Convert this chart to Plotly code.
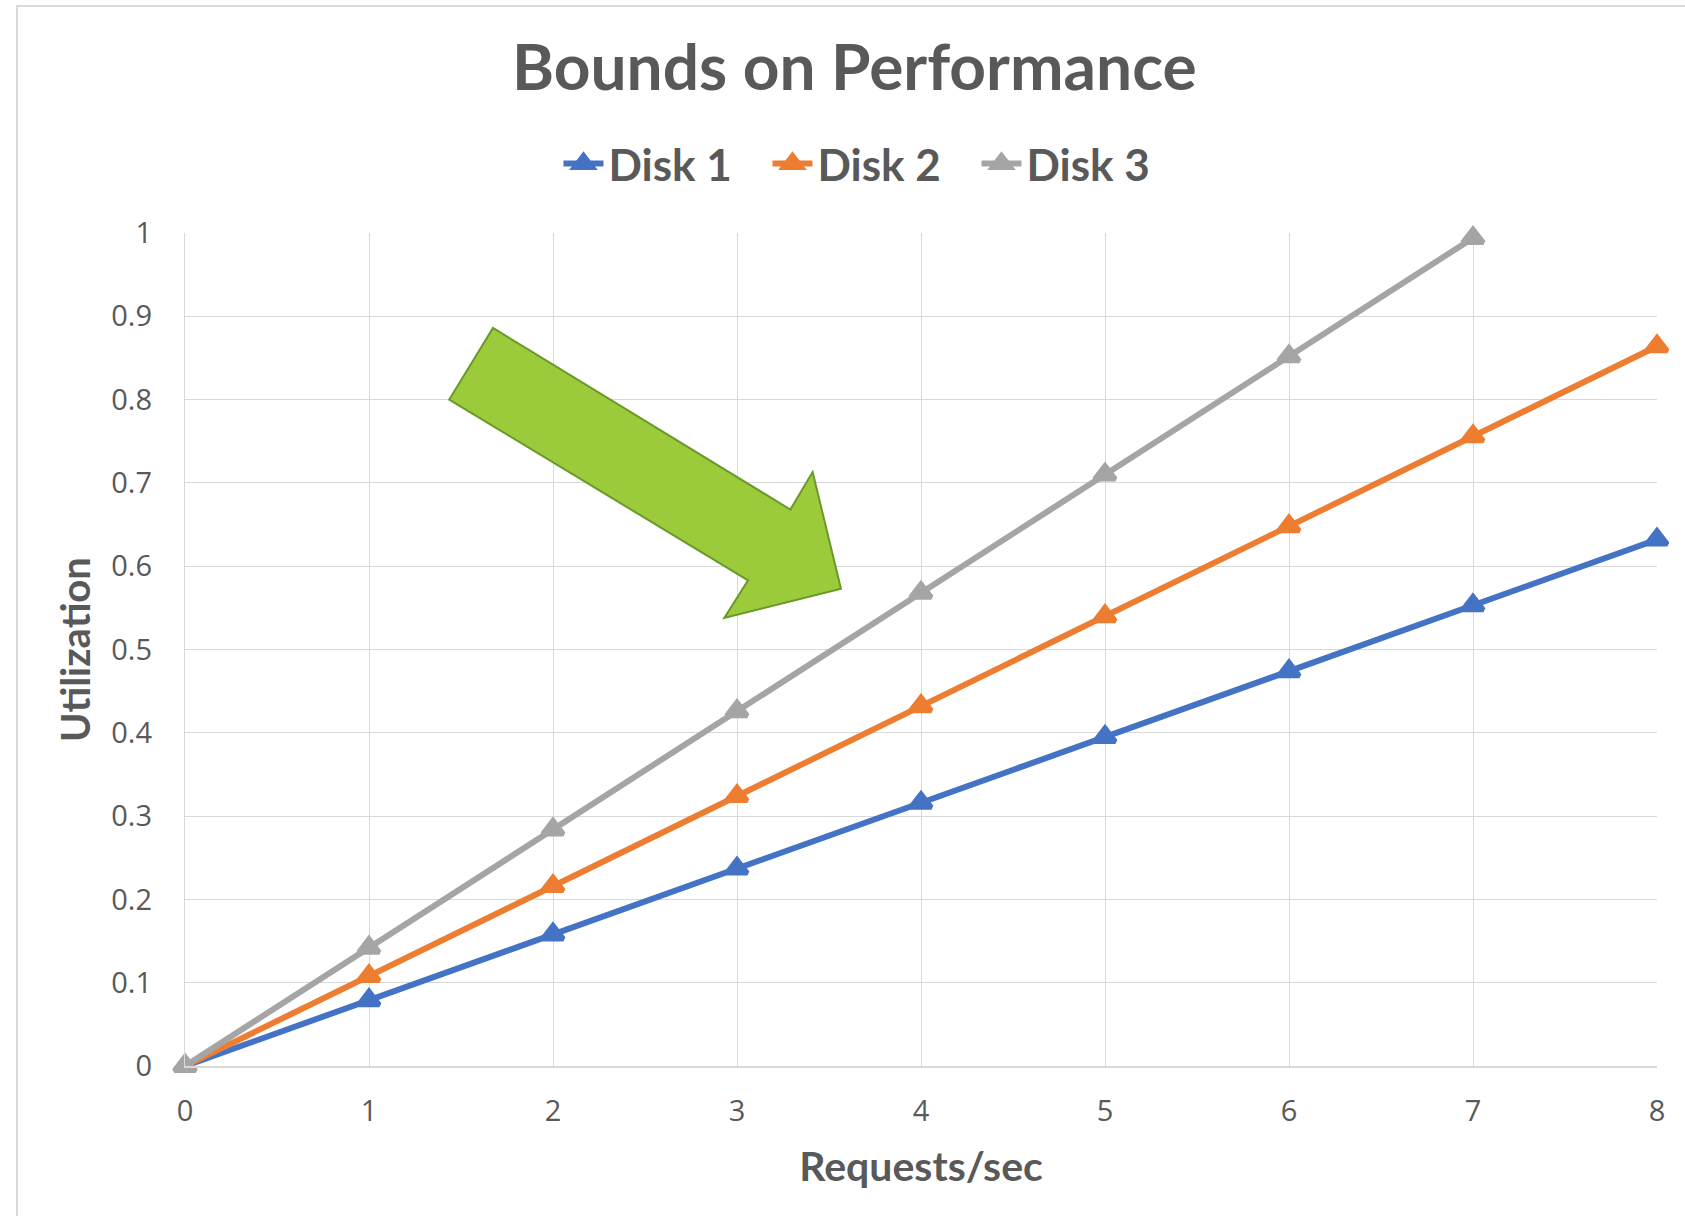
import plotly.graph_objects as go

# Requests per second (x) and utilization of each disk (y)
requests = [0, 1, 2, 3, 4, 5, 6, 7, 8]
disk1 = [0, 0.079, 0.158, 0.237, 0.316, 0.395, 0.474, 0.553, 0.632]
disk2 = [0, 0.108, 0.216, 0.324, 0.432, 0.540, 0.648, 0.756, 0.864]
requests_disk3 = [0, 1, 2, 3, 4, 5, 6, 7]
disk3 = [0, 0.142, 0.284, 0.426, 0.568, 0.710, 0.852, 0.994]

series_names = ["Disk 1", "Disk 2", "Disk 3"]
series_colors = ["#4472C4", "#ED7D31", "#A5A5A5"]

x_ticks = [0, 1, 2, 3, 4, 5, 6, 7, 8]
y_ticks = [0, 0.1, 0.2, 0.3, 0.4, 0.5, 0.6, 0.7, 0.8, 0.9, 1]
y_tick_text = ["0", "0.1", "0.2", "0.3", "0.4", "0.5", "0.6", "0.7", "0.8", "0.9", "1"]

# Outline of the green block arrow, in axis units
arrow_x = [1.674, 3.290, 3.411, 3.565, 2.931, 3.060, 1.436]
arrow_y = [0.886, 0.668, 0.713, 0.573, 0.538, 0.583, 0.800]

TEXT = "#595959"
GRID = "#D9D9D9"
TICK_FONT = dict(family="Open Sans", size=29, color=TEXT)
BOLD_FONT = "Lato"

fig = go.Figure()
for xs, ys, name, color in zip(
    [requests, requests, requests_disk3],
    [disk1, disk2, disk3],
    series_names,
    series_colors,
):
    fig.add_trace(
        go.Scatter(
            x=xs,
            y=ys,
            name=name,
            mode="lines+markers",
            line=dict(color=color, width=6),
            marker=dict(symbol="triangle-up", size=18, color=color,
                        line=dict(color=color, width=5)),
            cliponaxis=False,
        )
    )

arrow_path = "M " + " L ".join(f"{x},{y}" for x, y in zip(arrow_x, arrow_y)) + " Z"

fig.update_layout(
    width=1685,
    height=1216,
    margin=dict(l=185, r=28, t=233, b=150),
    paper_bgcolor="white",
    plot_bgcolor="white",
    title=dict(
        text="<b>Bounds on Performance</b>",
        font=dict(family=BOLD_FONT, size=64, color=TEXT),
        x=0.507, xanchor="center",
        y=1 - 68 / 1216, yanchor="middle",
    ),
    legend=dict(
        orientation="h",
        x=0.4667, xanchor="center",
        y=1.083, yanchor="middle",
        font=dict(family=BOLD_FONT, size=44, color=TEXT, weight="bold"),
        itemwidth=40,
        entrywidth=154,
        entrywidthmode="pixels",
        bgcolor="rgba(0,0,0,0)",
    ),
    xaxis=dict(
        range=[0, 8],
        tickvals=x_ticks,
        showgrid=True, gridcolor=GRID, gridwidth=1.3,
        showline=True, linecolor=GRID, linewidth=2,
        zeroline=False,
        ticks="",
        tickfont=TICK_FONT,
        ticklabelstandoff=18,
        title=dict(text="<b>Requests/sec</b>",
                   font=dict(family=BOLD_FONT, size=41, color=TEXT),
                   standoff=25),
    ),
    yaxis=dict(
        range=[0, 1],
        tickvals=y_ticks,
        ticktext=y_tick_text,
        showgrid=True, gridcolor=GRID, gridwidth=1.3,
        showline=True, linecolor=GRID, linewidth=1.3,
        zeroline=False,
        ticks="",
        tickfont=TICK_FONT,
        ticklabelstandoff=26,
        title=dict(text="<b>Utilization</b>",
                   font=dict(family=BOLD_FONT, size=40, color=TEXT),
                   standoff=8),
    ),
    shapes=[
        # chart frame
        dict(type="rect", xref="paper", yref="paper",
             x0=-0.1141, x1=1.2, y0=-0.3, y1=1.2725,
             line=dict(color=GRID, width=2), fillcolor="rgba(0,0,0,0)",
             layer="below"),
        # block arrow
        dict(type="path", xref="x", yref="y", path=arrow_path,
             fillcolor="#9BCB3B", line=dict(color="#6A992A", width=2),
             layer="above"),
    ],
)

fig.write_html("out.html")
